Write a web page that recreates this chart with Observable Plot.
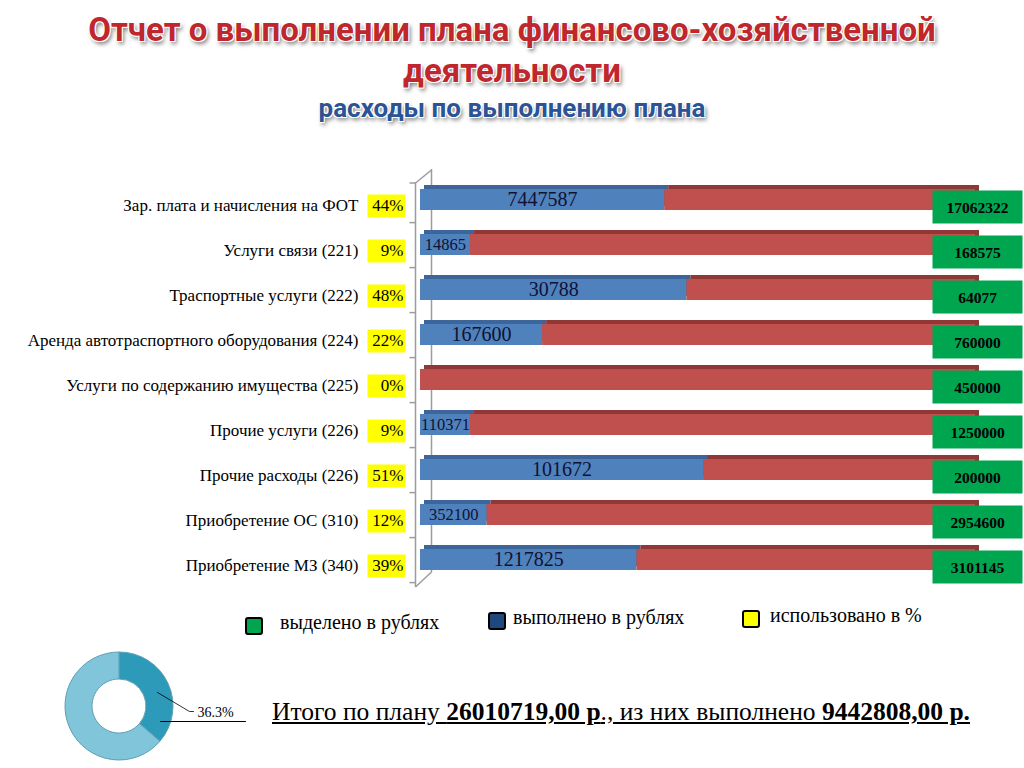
<!DOCTYPE html>
<html><head><meta charset="utf-8">
<script src="https://cdn.jsdelivr.net/npm/d3@7"></script>
<script src="https://cdn.jsdelivr.net/npm/@observablehq/plot@0.6"></script>
<style>
body{margin:0;background:#fff;}
#page{position:relative;width:1024px;height:768px;overflow:hidden;background:#fff;font-family:"Liberation Serif",serif;}
.t1{position:absolute;left:0;width:1024px;text-align:center;font-family:Roboto,"Open Sans",sans-serif;font-weight:700;color:#bf272d;
 text-shadow:-1px -1px 0 #fff,1px -1px 0 #fff,-1px 1px 0 #fff,1px 1px 0 #fff,2px 3px 4px rgba(0,0,0,0.55);}
.leg{position:absolute;font-size:20px;color:#000;white-space:nowrap;}
.sq{position:absolute;width:14px;height:14px;border:2px solid #000;border-radius:3px;}
#total{position:absolute;left:272px;top:697px;font-size:25.5px;text-decoration:underline;white-space:nowrap;}
</style></head>
<body><div id="page">
<div class="t1" style="top:10px;font-size:33px;line-height:40px;">Отчет о выполнении плана финансово-хозяйственной</div>
<div class="t1" style="top:51px;font-size:33px;line-height:40px;">деятельности</div>
<div class="t1" style="top:92px;font-size:26px;line-height:32px;color:#2b5496;">расходы по выполнению плана</div>
<div id="bars" style="position:absolute;left:0;top:165px;"></div>
<div id="legend"></div>
<div id="donut" style="position:absolute;left:40px;top:645px;"></div>
<div id="total"></div>
</div>
<script>
const categories = [
  "Зар. плата и начисления на ФОТ",
  "Услуги связи (221)",
  "Траспортные услуги (222)",
  "Аренда автотраспортного оборудования (224)",
  "Услуги по содержанию имущества (225)",
  "Прочие услуги (226)",
  "Прочие расходы (226)",
  "Приобретение ОС (310)",
  "Приобретение МЗ (340)"
];
const usedPct = [44, 9, 48, 22, 0, 9, 51, 12, 39];
const executed = [7447587, 14865, 30788, 167600, null, 110371, 101672, 352100, 1217825];
const allocated = [17062322, 168575, 64077, 760000, 450000, 1250000, 200000, 2954600, 3101145];
const legendLabels = ["выделено в рублях", "выполнено в рублях", "использовано в %"];
const donutLabel = "36.3%";
const donutShares = [36.3, 63.7];
const totalPlan = "26010719,00";
const totalDone = "9442808,00";

const rows = categories.map((c, i) => ({cat: c, pct: usedPct[i], exec: executed[i], alloc: allocated[i]}));
const segs = rows.flatMap(r => [
  {cat: r.cat, part: "done", x1: 0, x2: r.pct},
  {cat: r.cat, part: "rest", x1: r.pct, x2: 100}
]).filter(s => s.x2 > s.x1);

const boxSym = (w, h) => ({draw(ctx) { ctx.rect(-w / 2, -h / 2, w, h); }});
const segSym = (ax, ay, bx, by) => ({draw(ctx) { ctx.moveTo(ax, ay); ctx.lineTo(bx, by); }});
const axisGray = "#9c9c9c";

const serif = "Liberation Serif";
const bars = Plot.plot({
  width: 1024, height: 430,
  marginLeft: 420, marginRight: 49, marginTop: 11, marginBottom: 12,
  x: {domain: [0, 100], axis: null},
  y: {domain: categories, axis: null, paddingInner: 0.53, paddingOuter: 0.265},
  style: {fontFamily: serif, background: "transparent", overflow: "visible"},
  marks: [
    // 3D axis wall
    Plot.ruleX([0], {stroke: axisGray, strokeWidth: 1.5, dx: 11, insetTop: -7, insetBottom: 11}),
    Plot.ruleX([0], {stroke: axisGray, strokeWidth: 1.5, dx: -5, insetTop: 6, insetBottom: -4}),
    Plot.dot(categories.slice(0, 1), {x: () => 0, y: d => d, symbol: segSym(-5, -17, 11, -30), stroke: axisGray, strokeWidth: 1.5, fill: "none"}),
    Plot.dot(categories.slice(-1), {x: () => 0, y: d => d, symbol: segSym(-5, 27, 11, 12), stroke: axisGray, strokeWidth: 1.5, fill: "none"}),
    Plot.dot(categories, {x: () => 0, y: d => d, symbol: segSym(-11, 22.6, -5, 22.6), stroke: axisGray, fill: "none"}),
    Plot.dot(categories.slice(0, 1), {x: () => 0, y: d => d, symbol: segSym(-11, -17, -5, -17), stroke: axisGray, fill: "none"}),
    // bars
    Plot.barX(segs, {x1: "x1", x2: "x2", y: "cat", fill: d => d.part === "done" ? "#3b659b" : "#8f3835", dx: 4, dy: -4}),
    Plot.barX(segs, {x1: "x1", x2: "x2", y: "cat", fill: d => d.part === "done" ? "#4f81bd" : "#c0504d"}),
    Plot.text(rows.filter(r => r.exec != null), {
      x: d => d.pct / 2, y: "cat", text: d => String(d.exec),
      fontSize: d => d.pct < 15 ? 16.5 : 20, fill: "#111133", dy: 0
    }),
    Plot.text(rows, {x: () => 0, y: "cat", text: "cat", textAnchor: "end", dx: -62, dy: 6, fontSize: 17, fill: "#000"}),
    Plot.dot(rows, {x: () => 0, y: "cat", symbol: boxSym(38, 23), fill: "#ffff00", dx: -34, dy: 6}),
    Plot.text(rows, {x: () => 0, y: "cat", text: d => d.pct + "%", textAnchor: "end", dx: -17, dy: 6, fontSize: 17, fill: "#000"}),
    Plot.dot(rows, {x: () => 100, y: "cat", symbol: boxSym(90, 33), fill: "#00a550", dx: 2, dy: 7}),
    Plot.text(rows, {x: () => 100, y: "cat", text: d => String(d.alloc), dx: 2, dy: 8, fontSize: 15.5, fontWeight: "bold", fill: "#000"})
  ]
});
document.getElementById("bars").appendChild(bars);

// legend
const legColors = ["#00a550", "#1f497d", "#ffff00"];
const legPos = [[245, 617, 280, 611], [488, 612, 513, 606], [742, 610, 770, 604]];
const legend = document.getElementById("legend");
legendLabels.forEach((t, i) => {
  const [sx, sy, tx, ty] = legPos[i];
  const s = document.createElement("div");
  s.className = "sq"; s.style.left = sx + "px"; s.style.top = sy + "px"; s.style.background = legColors[i];
  legend.appendChild(s);
  const l = document.createElement("div");
  l.className = "leg"; l.style.left = tx + "px"; l.style.top = ty + "px"; l.textContent = t;
  legend.appendChild(l);
});

// donut
const donut = Plot.plot({
  width: 230, height: 122, margin: 0,
  x: {domain: [0, 230], axis: null}, y: {domain: [0, 122], axis: null, reverse: true},
  style: {background: "transparent", overflow: "visible"},
  marks: [
    (index, scales) => {
      const g = d3.create("svg:g").attr("transform", `translate(${scales.x(79)},${scales.y(61)})`);
      const pie = d3.pie().sort(null)(donutShares);
      const arc = d3.arc().innerRadius(27).outerRadius(54);
      const fills = ["#2e9aba", "#80c5da"];
      g.selectAll("path").data(pie).join("path").attr("d", arc).attr("fill", (d, i) => fills[i]).attr("stroke", "#5f9fb3").attr("stroke-width", 1);
      return g.node();
    },
    Plot.line([[117, 47], [149, 66], [153, 66]], {x: d => d[0], y: d => d[1], stroke: "#000", strokeWidth: 0.8}),
    Plot.line([[120, 76], [205, 76]], {x: d => d[0], y: d => d[1], stroke: "#000", strokeWidth: 1}),
    Plot.text([donutLabel], {x: () => 157, y: () => 67, text: d => d, textAnchor: "start", fontSize: 14, fontFamily: serif, fill: "#000"})
  ]
});
document.getElementById("donut").appendChild(donut);

document.getElementById("total").innerHTML =
  `Итого по плану <b>${totalPlan} р</b>., из них выполнено <b>${totalDone} р.</b>`;
</script>
</body></html>
